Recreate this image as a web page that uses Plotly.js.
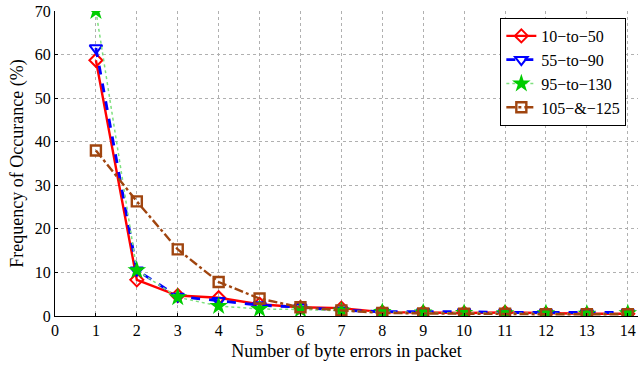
<!DOCTYPE html>
<html><head><meta charset="utf-8">
<script src="https://cdn.plot.ly/plotly-3.0.1.min.js"></script>
<style>html,body{margin:0;padding:0;background:#fff}#c{width:638px;height:367px}</style>
</head><body><div id="c"></div>
<script>
const xs = [1,2,3,4,5,6,7,8,9,10,11,12,13,14];
const names = ["10\u2212to\u221250","55\u2212to\u221290","95\u2212to\u2212130","105\u2212&\u2212125"];
const s1 = [58.7,8.3,4.7,4.2,2.7,2.0,1.8,0.9,0.8,0.7,0.8,0.6,0.5,0.5];
const s2 = [61.5,10.5,4.5,3.5,2.5,2.0,1.3,1.0,1.0,1.0,0.8,0.8,0.7,0.8];
const s3 = [70.0,10.5,4.3,2.3,1.6,1.5,1.2,0.9,0.8,0.7,0.6,0.6,0.5,0.6];
const s4 = [38.0,26.3,15.3,7.8,4.0,2.0,1.3,0.7,0.6,0.5,0.5,0.4,0.4,0.4];
const xTicks = [0,1,2,3,4,5,6,7,8,9,10,11,12,13,14];
const yTicks = [0,10,20,30,40,50,60,70];

const brown = "#a0450f";
const traces = [
 {x:xs,y:s1,name:names[0],mode:"lines+markers",line:{color:"#ff0000",width:2.4},
  marker:{symbol:"diamond-open",size:10,color:"#ff0000",line:{width:2}}},
 {x:xs,y:s2,name:names[1],mode:"lines+markers",line:{color:"#0000ff",width:2.8,dash:"dash"},
  marker:{symbol:"triangle-down-open",size:11,color:"#0000ff",line:{width:2}}},
 {x:xs,y:s3,name:names[2],mode:"lines+markers",line:{color:"#7fe07f",width:1.5,dash:"dot"},
  marker:{symbol:"star",size:14,color:"#00cc00",line:{width:0}}},
 {x:xs,y:s4,name:names[3],mode:"lines+markers",line:{color:brown,width:2.4,dash:"dashdot"},
  marker:{symbol:"square-open",size:10,color:brown,line:{width:2.4}}}
];
const layout = {
 width:638,height:367,
 margin:{l:55,r:0,t:11,b:51},
 paper_bgcolor:"#fff",plot_bgcolor:"#fff",
 font:{family:"Liberation Serif, Times New Roman, serif",size:16,color:"#000"},
 showlegend:true,
 legend:{x:0.98,y:0.977,xanchor:"right",yanchor:"top",bgcolor:"#fff",bordercolor:"#000",borderwidth:1,
   font:{size:16},tracegroupgap:0,itemwidth:30},
 xaxis:{range:[0,14.25],tickvals:xTicks,ticktext:xTicks.map(String),showgrid:true,ticklabeloverflow:"allow",
   automargin:false,
   gridcolor:"#b0b0b0",griddash:"dot",gridwidth:1,zeroline:false,showline:true,linecolor:"#000",linewidth:1,
   ticks:"inside",ticklen:3,tickcolor:"#000",
   title:{text:"Number of byte errors in packet",font:{size:18},standoff:6}},
 yaxis:{range:[0,70],tickvals:yTicks,ticktext:yTicks.map(String),showgrid:true,automargin:false,
   gridcolor:"#b0b0b0",griddash:"dot",gridwidth:1,zeroline:false,showline:true,linecolor:"#000",linewidth:1,
   ticks:"inside",ticklen:3,tickcolor:"#000",
   title:{text:"Frequency of Occurance (%)",font:{size:18},standoff:6}}
};
Plotly.newPlot("c",traces,layout,{displayModeBar:false,staticPlot:true});
</script></body></html>
